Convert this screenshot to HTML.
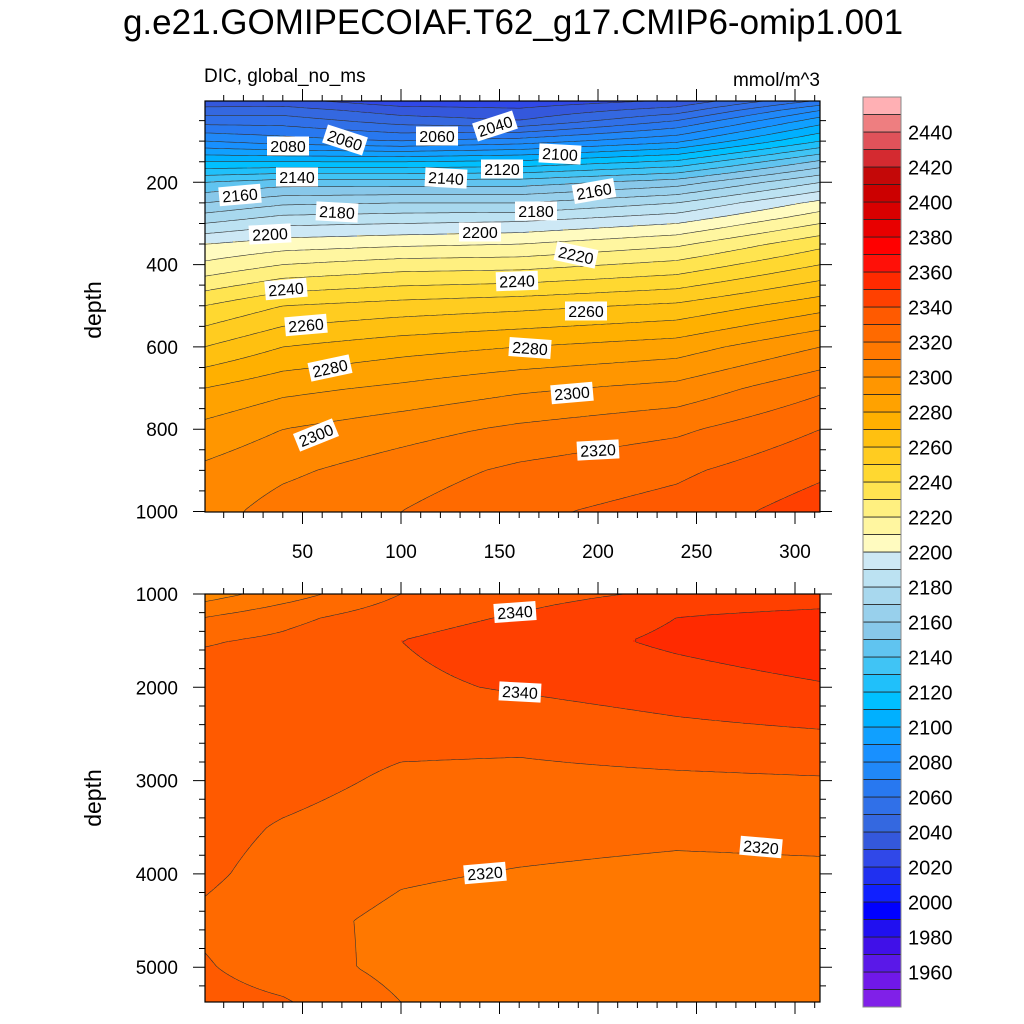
<!DOCTYPE html>
<html><head><meta charset="utf-8">
<style>
html,body{margin:0;padding:0;background:#fff;}
svg{display:block;font-family:"Liberation Sans",sans-serif;}
</style></head>
<body>
<svg id="chart" width="1024" height="1024" viewBox="0 0 1024 1024" xmlns="http://www.w3.org/2000/svg">
<rect width="1024" height="1024" fill="#fff"/>
<text x="513" y="34" font-size="35" text-anchor="middle">g.e21.GOMIPECOIAF.T62_g17.CMIP6-omip1.001</text>
<text x="204" y="82" font-size="19">DIC, global_no_ms</text>
<text x="820" y="86" font-size="19" text-anchor="end">mmol/m^3</text>
<text x="0" y="0" font-size="23" text-anchor="middle" transform="translate(101,310) rotate(-90)">depth</text>
<text x="0" y="0" font-size="23" text-anchor="middle" transform="translate(101,798) rotate(-90)">depth</text>
<g id="topPanel"></g>
<g id="botPanel"></g>
<g id="cbar"></g>
</svg>
<script>
// ---- data ----
const levelColors = ['#8020E8','#7018E8','#5A18E8','#4010E8','#2010F0','#0000FF','#1020FF','#2030F0','#3048E8','#3458DC','#3468E0','#3070E8','#2878F0','#2088F8','#1890FF','#10A0FF','#00B0FF','#00C0FF','#20C0FA','#40C4F5','#60C4F0','#88C8EA','#98D0EC','#A8D8EE','#BCE2F2','#CDE8F5','#FFFBC0','#FFF6A0','#FFF080','#FFE450','#FFD830','#FFCC20','#FFC010','#FFB000','#FFA200','#FF9600','#FF8800','#FF7800','#FF6A00','#FF5A00','#FF4000','#FF2A00','#FF1008','#FF0000','#E80000','#D80000','#CC0000','#C40808','#D42A30','#E0525A','#EE7E80','#FFB0B4'];
const levelMin = 1950;
const levelStep = 10;
const colorbarLabels = [1960,1980,2000,2020,2040,2060,2080,2100,2120,2140,2160,2180,2200,2220,2240,2260,2280,2300,2320,2340,2360,2380,2400,2420,2440];

const gridX = [0, 40, 100, 160, 240, 313];
const topDepths = [0, 25, 50, 100, 150, 200, 250, 300, 350, 400, 500, 600, 700, 800, 900, 1000];
const topValues = [
 [2030,2032,2022,2022,2030,2060],
 [2045,2045,2035,2032,2045,2080],
 [2055,2055,2045,2040,2060,2095],
 [2080,2075,2070,2075,2088,2120],
 [2110,2110,2110,2112,2122,2152],
 [2140,2145,2145,2145,2155,2180],
 [2160,2168,2170,2170,2180,2203],
 [2180,2188,2190,2192,2200,2220],
 [2200,2205,2208,2210,2218,2237],
 [2212,2220,2225,2226,2233,2250],
 [2240,2250,2254,2257,2262,2276],
 [2260,2270,2276,2280,2285,2300],
 [2280,2287,2292,2298,2303,2318],
 [2293,2300,2306,2312,2318,2330],
 [2302,2308,2315,2322,2328,2338],
 [2306,2314,2320,2328,2334,2345]
];
const botDepths = [1000, 1250, 1500, 2000, 2500, 3000, 3500, 4000, 4500, 5000, 5375];
const botValues = [
 [2305,2315,2330,2336,2342,2343],
 [2320,2327,2336,2341,2350,2354],
 [2329,2332,2340,2345,2352,2357],
 [2336,2336,2338,2341,2345,2349],
 [2337,2336,2333,2333,2337,2339],
 [2336,2334,2328,2327,2328,2329],
 [2334,2329,2324,2323,2322,2322.5],
 [2332,2326,2321,2319.5,2318,2318.5],
 [2328,2323,2318,2316,2315,2316],
 [2331,2325,2317,2314,2313,2315],
 [2334,2331,2320,2314,2313,2315]
];
const topXTicks = [50,100,150,200,250,300];
const topYTicks = [200,400,600,800,1000];
const botYTicks = [1000,2000,3000,4000,5000];
const topLabels = [[2080,288,146,0],[2060,345,140,18],[2060,437,136,0],[2040,495,126,-18],[2100,560,154,3],[2120,502,169,0],[2140,297,177,0],[2140,446,178,3],[2160,240,195,-5],[2160,594,191,-10],[2180,337,212,3],[2180,536,211,0],[2200,270,234,-3],[2200,480,232,0],[2220,576,255,12],[2240,286,289,-5],[2240,517,281,-2],[2260,306,325,-5],[2260,586,311,0],[2280,330,368,-12],[2280,530,348,4],[2300,316,435,-22],[2300,572,393,-5],[2320,598,450,-3]];
const botLabels = [[2340,515,612,-4],[2340,520,692,3],[2320,485,873,-5],[2320,761,847,5]];

// ---- scales ----
const NS='http://www.w3.org/2000/svg';
function xS(v){return 204+1.97*v;}
function yTop(d){return 100+d*0.4115;}
function yBot(d){return 594+(d-1000)*0.0933;}
function xInv(px){return (px-204)/1.97;}
function yTopInv(py){return (py-100)/0.4115;}
function yBotInv(py){return 1000+(py-594)/0.0933;}
function mk(tag,attrs,parent){const e=document.createElementNS(NS,tag);for(const k in attrs)e.setAttribute(k,attrs[k]);parent.appendChild(e);return e;}
function idx(arr,v){let i=0;while(i<arr.length-2&&v>arr[i+1])i++;return i;}
function interp(X,D,V,xv,dv){
  xv=Math.max(X[0],Math.min(X[X.length-1],xv));dv=Math.max(D[0],Math.min(D[D.length-1],dv));
  const i=idx(X,xv),j=idx(D,dv);
  const tx=(xv-X[i])/(X[i+1]-X[i]),ty=(dv-D[j])/(D[j+1]-D[j]);
  const a=V[j][i],b=V[j][i+1],c=V[j+1][i],d=V[j+1][i+1];
  return a*(1-tx)*(1-ty)+b*tx*(1-ty)+c*(1-tx)*ty+d*tx*ty;
}
function lvl(v){let k=Math.floor((v-levelMin)/levelStep)+1;return Math.max(0,Math.min(levelColors.length-1,k));}

function drawPanel(g,depths,values,yInv,y0,y1,labels){
  const x0=205,x1=820,st=2;
  const clip=mk('clipPath',{id:g.id+'clip'},g);
  mk('rect',{x:x0,y:y0,width:x1-x0,height:y1-y0},clip);
  const fill=mk('g',{'clip-path':'url(#'+g.id+'clip)'},g);
  
  
  for(let py=y0;py<y1;py+=st){
    const dv=yInv(py+st/2);let runStart=x0,runL=-1;
    for(let px=x0;;px+=st){
      const end=px>=x1;
      const L=end?-2:lvl(interp(gridX,depths,values,xInv(px+st/2),dv));
      if(L!==runL){
        if(runL>=0){const r=mk('rect',{x:runStart,y:py,width:Math.min(px,x1)-runStart+0.6,height:st+0.6,fill:levelColors[runL]},fill);
          
          }
        runStart=px;runL=L;
      }
      if(end)break;
    }
  }
  const cs=3,nx=Math.ceil((x1-x0)/cs),ny=Math.ceil((y1-y0)/cs);
  const G=[];
  for(let j=0;j<=ny;j++){G.push([]);const py=Math.min(y1,y0+j*cs);for(let i=0;i<=nx;i++){const px=Math.min(x1,x0+i*cs);G[j].push(interp(gridX,depths,values,xInv(px),yInv(py)));}}
  let dstr='';
  for(let lv=1960;lv<=2440;lv+=levelStep){
    for(let j=0;j<ny;j++)for(let i=0;i<nx;i++){
      const pxa=x0+i*cs,pxb=Math.min(x1,x0+(i+1)*cs),pya=y0+j*cs,pyb=Math.min(y1,y0+(j+1)*cs);
      const v=[G[j][i],G[j][i+1],G[j+1][i+1],G[j+1][i]];
      const P=[[pxa,pya],[pxb,pya],[pxb,pyb],[pxa,pyb]];
      const pts=[];
      for(let e=0;e<4;e++){const a=v[e],b=v[(e+1)%4];if((a<lv)!==(b<lv)){const t=(lv-a)/(b-a);const A=P[e],B=P[(e+1)%4];pts.push([A[0]+(B[0]-A[0])*t,A[1]+(B[1]-A[1])*t]);}}
      if(pts.length>=2)dstr+='M'+pts[0][0].toFixed(1)+' '+pts[0][1].toFixed(1)+'L'+pts[1][0].toFixed(1)+' '+pts[1][1].toFixed(1);
      if(pts.length===4)dstr+='M'+pts[2][0].toFixed(1)+' '+pts[2][1].toFixed(1)+'L'+pts[3][0].toFixed(1)+' '+pts[3][1].toFixed(1);
    }
  }
  const cl=mk('path',{d:dstr,stroke:'#333',fill:'none','stroke-width':0.6},g);
  
  
  for(const l of labels){
    const lg=mk('g',{transform:'translate('+l[1]+','+l[2]+') rotate('+l[3]+')'},g);
    
    
    mk('rect',{x:-21,y:-9.5,width:42,height:19,fill:'#fff'},lg);
    const t=mk('text',{x:0,y:6,'font-size':16,'text-anchor':'middle'},lg);t.textContent=l[0];
  }
  const fr=mk('rect',{x:x0,y:y0,width:x1-x0,height:y1-y0,fill:'none',stroke:'#000','stroke-width':1.2},g);
  
  
}

function ticksX(g,y0,y1,withLabels){
  let d='';
  for(let v=10;v<=310;v+=10){const x=xS(v);const L=(v%50===0)?12:6;d+='M'+x+' '+y0+'v'+(-L)+'M'+x+' '+y1+'v'+L;}
  const p=mk('path',{d:d,stroke:'#000','stroke-width':1},g);
  
  
  if(withLabels)for(const v of topXTicks){const t=mk('text',{x:xS(v),y:y1+46,'font-size':19,'text-anchor':'middle'},g);t.textContent=v;
    
    }
}
function ticksY(g,yf,dmin,dmax,minor,major,labs){
  let d='';
  for(let v=dmin;v<=dmax+0.1;v+=minor){const y=yf(v);const L=(Math.abs(v%major)<0.1)?12:6;d+='M205 '+y+'h'+(-L)+'M820 '+y+'h'+L;}
  const p=mk('path',{d:d,stroke:'#000','stroke-width':1},g);
  
  
  for(const v of labs){const t=mk('text',{x:178,y:yf(v)+7,'font-size':19,'text-anchor':'end'},g);t.textContent=v;
    
    }
}

const topG=document.getElementById('topPanel');
drawPanel(topG,topDepths,topValues,yTopInv,101,512,topLabels);
ticksX(topG,101,512,true);
ticksY(topG,yTop,50,1000,50,200,topYTicks);
const botG=document.getElementById('botPanel');
drawPanel(botG,botDepths,botValues,yBotInv,594,1002,botLabels);
ticksX(botG,594,1002,false);
ticksY(botG,yBot,1000,5200,200,1000,botYTicks);

const cb=document.getElementById('cbar');
const boxH=17.5;
levelColors.forEach((c,i)=>{
  const r=mk('rect',{x:863,y:1007-(i+1)*boxH,width:38,height:boxH,fill:c,stroke:'#222','stroke-width':0.8},cb);
  
  
});
mk('rect',{x:863,y:1007-levelColors.length*boxH,width:38,height:levelColors.length*boxH,fill:'none',stroke:'#888','stroke-width':1},cb);
for(const v of colorbarLabels){
  const y=1007-((v-levelMin)/levelStep+1)*boxH;
  const t=mk('text',{x:908,y:y+7.5,'font-size':20},cb);t.textContent=v;
  
  
}
</script>
</body></html>
